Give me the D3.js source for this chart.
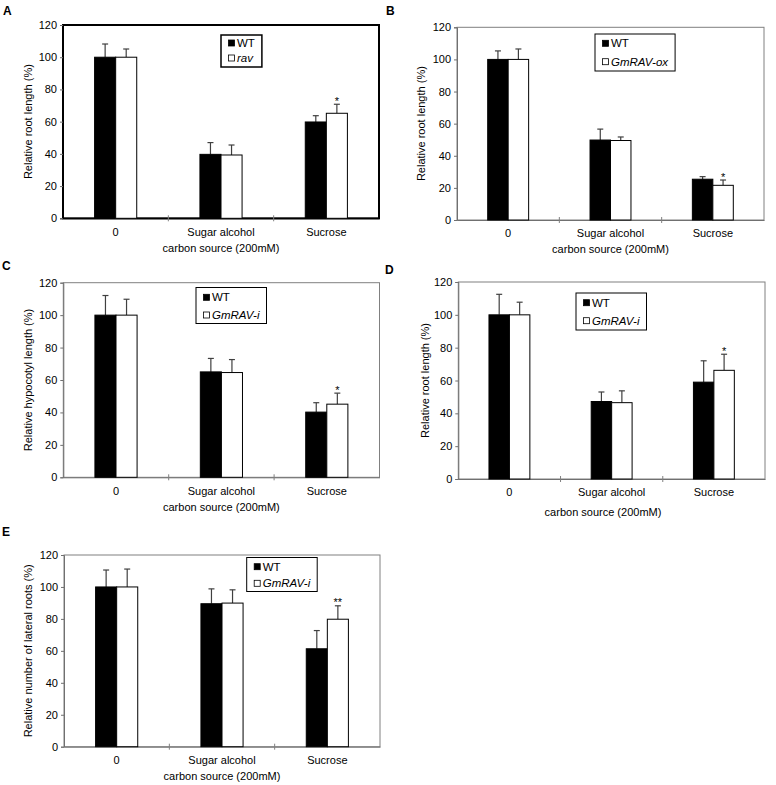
<!DOCTYPE html>
<html>
<head>
<meta charset="utf-8">
<script src="https://cdn.jsdelivr.net/npm/d3@7"></script>
<style>
  html, body { margin: 0; padding: 0; background: #fff; }
  svg text { font-family: "Liberation Sans", Arial, Helvetica, sans-serif; fill: #000; }
</style>
</head>
<body>
<script>
// ---------- data ----------
const categories = ["0", "Sugar alcohol", "Sucrose"];
const yTicks = [0, 20, 40, 60, 80, 100, 120];
const panelLetters = ["A", "B", "C", "D", "E"];
const yTitles = [
  "Relative root length (%)",
  "Relative root length (%)",
  "Relative hypocotyl length (%)",
  "Relative root length (%)",
  "Relative number of lateral roots (%)"
];
const xTitle = "carbon source (200mM)";
const wtName = "WT";
const mutantNames = ["rav", "GmRAV-ox", "GmRAV-i", "GmRAV-i", "GmRAV-i"];

const wtA = [100, 39.7, 59.8];   const wtErrA = [8.2, 7.3, 3.9];
const mutA = [100, 39.3, 65.2];  const mutErrA = [5.1, 6.2, 5.6];
const sigA = ["", "", "*"];

const wtB = [100, 49.8, 25.4];   const wtErrB = [5.3, 6.8, 1.6];
const mutB = [100, 49.5, 21.6];  const mutErrB = [6.5, 2.2, 3.3];
const sigB = ["", "", "*"];

const wtC = [100, 65.0, 40.2];   const wtErrC = [12.1, 8.3, 5.8];
const mutC = [100, 64.6, 45.1];  const mutErrC = [9.8, 8.0, 6.8];
const sigC = ["", "", "*"];

const wtD = [100, 47.2, 59.0];   const wtErrD = [12.5, 5.8, 13.0];
const mutD = [100, 46.5, 66.2];  const mutErrD = [7.7, 7.2, 9.8];
const sigD = ["", "", "*"];

const wtE = [100, 89.5, 61.3];   const wtErrE = [10.6, 9.3, 11.4];
const mutE = [100, 89.9, 79.8];  const mutErrE = [11.2, 8.3, 8.4];
const sigE = ["", "", "**"];

const seriesWT = [wtA, wtB, wtC, wtD, wtE];
const seriesWTErr = [wtErrA, wtErrB, wtErrC, wtErrD, wtErrE];
const seriesMut = [mutA, mutB, mutC, mutD, mutE];
const seriesMutErr = [mutErrA, mutErrB, mutErrC, mutErrD, mutErrE];
const sigMarks = [sigA, sigB, sigC, sigD, sigE];

// ---------- layout ----------
const layout = [
  { x0: 63,   x1: 379,   y0: 25,    y1: 218.3, thick: true,  lx: 221,   ly: 35,    lh: 32, r1: 8,   r2: 23,  ytx: 28,    letter: [3, 15],    xtDy: 30,   xtX: null },
  { x0: 457,  x1: 764,   y0: 27.3,  y1: 220,   thick: false, lx: 595,   ly: 34,    lh: 37, r1: 9.3, r2: 27.7, ytx: 421, letter: [386, 15],  xtDy: 29.3, xtX: null },
  { x0: 63.3, x1: 379.5, y0: 282.7, y1: 477.3, thick: false, lx: 196,   ly: 287.5, lh: 36, r1: 9.8, r2: 27.5, ytx: 28,  letter: [2, 270],   xtDy: 29.4, xtX: null },
  { x0: 458.3,x1: 765,   y0: 282,   y1: 479,   thick: false, lx: 576,   ly: 293,   lh: 37, r1: 9.7, r2: 27.7, ytx: 425, letter: [385, 273.5], xtDy: 32.7, xtX: 603 },
  { x0: 64,   x1: 380,   y0: 555,   y1: 746.7, thick: false, lx: 246.7, ly: 557.5, lh: 34, r1: 9.2, r2: 25.8, ytx: 28.3, letter: [2, 536], xtDy: 29.3, xtX: null }
];

const FS = 11;
const svg = d3.select("body").append("svg")
  .attr("width", 776).attr("height", 785)
  .attr("viewBox", "0 0 776 785");

layout.forEach((p, i) => {
  const g = svg.append("g");
  const x = d3.scaleBand().domain(categories).range([p.x0, p.x1]).paddingInner(0).paddingOuter(0);
  const y = d3.scaleLinear().domain([0, 120]).range([p.y1, p.y0]);
  const bw = x.bandwidth() * 0.2;
  const borderColor = p.thick ? "#000" : "#808080";

  // plot area border
  g.append("rect")
    .attr("x", p.x0).attr("y", p.y0)
    .attr("width", p.x1 - p.x0).attr("height", p.y1 - p.y0)
    .attr("fill", "none")
    .attr("stroke", borderColor)
    .attr("stroke-width", p.thick ? 2 : 1);

  // y axis
  const ya = g.append("g")
    .attr("transform", `translate(${p.x0},0)`)
    .call(d3.axisLeft(y).tickValues(yTicks).tickSize(3).tickPadding(3).tickFormat(d3.format("d")));
  ya.select(".domain").attr("stroke", p.thick ? "#000" : "#707070");
  ya.selectAll(".tick line").attr("stroke", "#707070");
  ya.selectAll(".tick text").attr("font-size", FS).attr("fill", "#000");

  // x axis (labels centered in band, ticks at boundaries)
  const xa = g.append("g")
    .attr("transform", `translate(0,${p.y1})`)
    .call(d3.axisBottom(x).tickSize(0).tickPadding(9.6));
  xa.select(".domain").attr("stroke", p.thick ? "#000" : "#707070");
  xa.selectAll(".tick text").attr("font-size", FS).attr("fill", "#000");
  g.selectAll(".bound")
    .data(categories.slice(1))
    .enter().append("line")
    .attr("x1", d => x(d)).attr("x2", d => x(d))
    .attr("y1", p.y1 - 3).attr("y2", p.y1 + 3)
    .attr("stroke", "#808080").attr("stroke-width", 1);

  // x title
  const xtX = p.xtX !== null ? p.xtX : x(categories[1]) + x.bandwidth() / 2;
  g.append("text")
    .attr("x", xtX).attr("y", p.y1 + p.xtDy + 4)
    .attr("text-anchor", "middle").attr("font-size", FS)
    .text(xTitle);

  // y title
  g.append("text")
    .attr("transform", `translate(${p.ytx},${(p.y0 + p.y1) / 2}) rotate(-90)`)
    .attr("text-anchor", "middle").attr("dy", "0.35em")
    .attr("font-size", FS)
    .text(yTitles[i]);

  // panel letter
  g.append("text")
    .attr("x", p.letter[0]).attr("y", p.letter[1])
    .attr("font-size", 12).attr("font-weight", "bold")
    .text(panelLetters[i]);

  const wt = seriesWT[i], wtE = seriesWTErr[i], mt = seriesMut[i], mtE = seriesMutErr[i];
  const center = c => x(c) + x.bandwidth() / 2;

  // error bars (drawn first so bar tops overlay)
  const errColor = "#404040";
  const drawErr = (vals, errs, offset) => {
    categories.forEach((c, k) => {
      const cx = center(c) + offset;
      const top = y(vals[k] + errs[k]);
      g.append("line").attr("x1", cx).attr("x2", cx)
        .attr("y1", y(vals[k])).attr("y2", top)
        .attr("stroke", errColor).attr("stroke-width", 1.2);
      g.append("line").attr("x1", cx - 3).attr("x2", cx + 3)
        .attr("y1", top).attr("y2", top)
        .attr("stroke", errColor).attr("stroke-width", 1.2);
    });
  };
  drawErr(wt, wtE, -bw / 2);
  drawErr(mt, mtE, bw / 2);

  // bars
  g.selectAll(".wt").data(categories).enter().append("rect")
    .attr("x", c => center(c) - bw)
    .attr("y", (c, k) => y(wt[k]))
    .attr("width", bw)
    .attr("height", (c, k) => y(0) - y(wt[k]))
    .attr("fill", "#000").attr("stroke", "#000").attr("stroke-width", 1);
  g.selectAll(".mut").data(categories).enter().append("rect")
    .attr("x", c => center(c))
    .attr("y", (c, k) => y(mt[k]))
    .attr("width", bw)
    .attr("height", (c, k) => y(0) - y(mt[k]))
    .attr("fill", "#fff").attr("stroke", "#000").attr("stroke-width", 1);

  // significance marks
  categories.forEach((c, k) => {
    const s = sigMarks[i][k];
    if (!s) return;
    g.append("text")
      .attr("x", center(c) + bw / 2)
      .attr("y", y(mt[k] + mtE[k]) + 0.5)
      .attr("text-anchor", "middle").attr("font-size", FS)
      .text(s);
  });

  // legend
  const lg = g.append("g");
  const box = lg.append("rect")
    .attr("x", p.lx).attr("y", p.ly).attr("height", p.lh)
    .attr("fill", "#fff").attr("stroke", "#000").attr("stroke-width", p.thick ? 1.5 : 1);
  const rows = [
    { name: wtName, fill: "#000", italic: false, dy: p.r1 },
    { name: mutantNames[i], fill: "#fff", italic: true, dy: p.r2 }
  ];
  let maxW = 0;
  rows.forEach(r => {
    const cy = p.ly + r.dy;
    lg.append("rect")
      .attr("x", p.lx + 7.5).attr("y", cy - 3)
      .attr("width", 6).attr("height", 6)
      .attr("fill", r.fill).attr("stroke", "#000").attr("stroke-width", 0.8);
    const t = lg.append("text")
      .attr("x", p.lx + 16).attr("y", cy).attr("dy", "0.36em")
      .attr("font-size", 11.5)
      .attr("font-style", r.italic ? "italic" : "normal")
      .text(r.name);
    maxW = Math.max(maxW, t.node().getComputedTextLength());
  });
  box.attr("width", 16 + maxW + 7);
});
</script>
</body>
</html>
